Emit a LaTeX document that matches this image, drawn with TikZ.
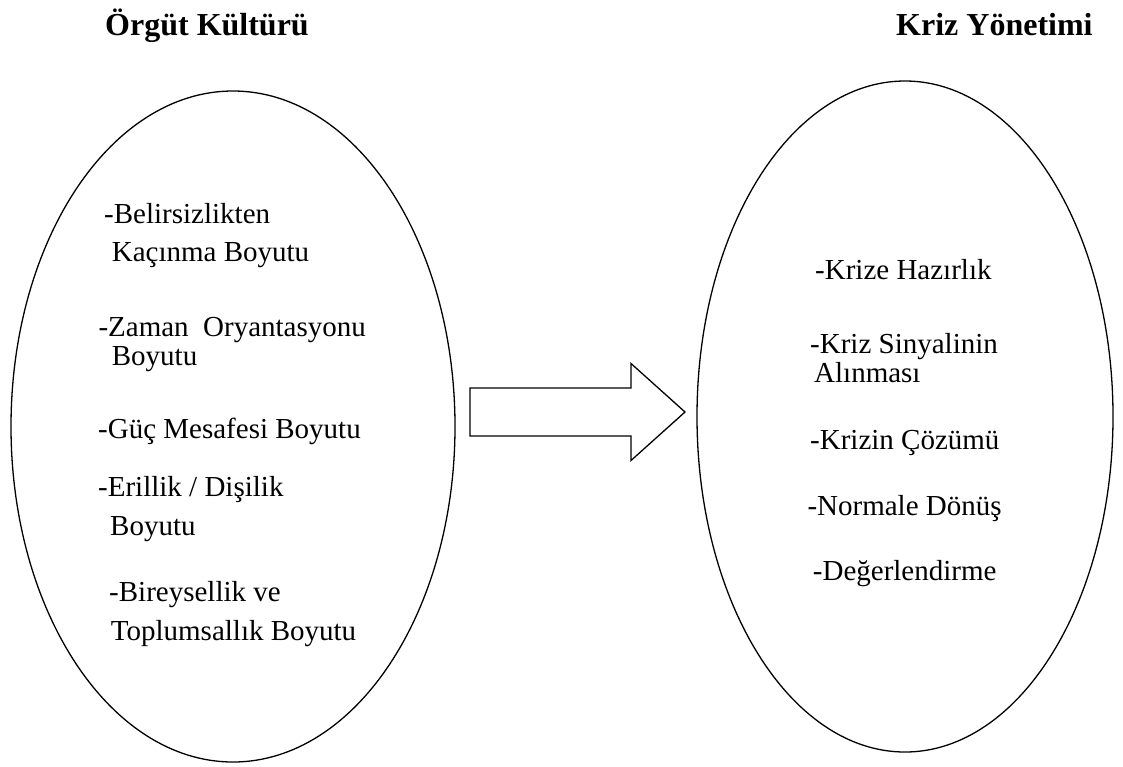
\documentclass[tikz,border=0pt]{standalone}
\usepackage{fontspec}
\setmainfont{Liberation Serif}
\usetikzlibrary{shapes.geometric}
\begin{document}
\begin{tikzpicture}[x=1pt,y=-1pt,
  oval/.style={draw, ellipse, line width=1.3pt, inner sep=0pt},
  ttl/.style={anchor=base west, inner sep=0pt, font=\fontsize{32}{37}\selectfont\bfseries},
  txt/.style={anchor=base west, inner sep=0pt, font=\fontsize{29}{34}\selectfont},
  blockarrow/.style={draw, line width=1.3pt, line join=miter}]
\useasboundingbox (0,0) rectangle (1123,766);
% ellipses
\node[oval, minimum width=444pt, minimum height=671pt] (L) at (233,426.5) {};
\node[oval, minimum width=416pt, minimum height=671pt] (R) at (905,416.5) {};
% titles
\node[ttl] (tl) at (105,35) {Örgüt Kültürü};
\node[ttl] (tr) at (896,35) {Kriz Yönetimi};
% left texts
\node[txt] (l1) at (104,223.3) {-Belirsizlikten};
\node[txt] (l2) at (111.7,261.7) {Kaçınma Boyutu};
\node[txt] (l3) at (98.3,336.7) {-Zaman\ \ Oryantasyonu};
\node[txt] (l4) at (111.7,365) {Boyutu};
\node[txt] (l5) at (98,438.3) {-Güç Mesafesi Boyutu};
\node[txt] (l6) at (98,496) {-Erillik / Dişilik};
\node[txt] (l7) at (110,535) {Boyutu};
\node[txt] (l8) at (109,601.7) {-Bireysellik ve};
\node[txt] (l9) at (110.7,640.7) {Toplumsallık Boyutu};
% right texts
\node[txt] (r1) at (815,279.3) {-Krize Hazırlık};
\node[txt] (r2) at (810,353.3) {-Kriz Sinyalinin};
\node[txt] (r3) at (814,382.7) {Alınması};
\node[txt] (r4) at (810,449.3) {-Krizin Çözümü};
\node[txt] (r5) at (807.3,515) {-Normale Dönüş};
\node[txt] (r6) at (812.7,580) {-Değerlendirme};
% block arrow
\coordinate (a1) at (470,388);
\coordinate (a2) at (631,388);
\coordinate (a3) at (631,363.5);
\coordinate (tip) at (685,412);
\coordinate (a5) at (631,460.5);
\coordinate (a6) at (631,436);
\coordinate (a7) at (470,436);
\draw[blockarrow] (a1) -- (a2) -- (a3) -- (tip) -- (a5) -- (a6) -- (a7) -- cycle;
\end{tikzpicture}
\end{document}
